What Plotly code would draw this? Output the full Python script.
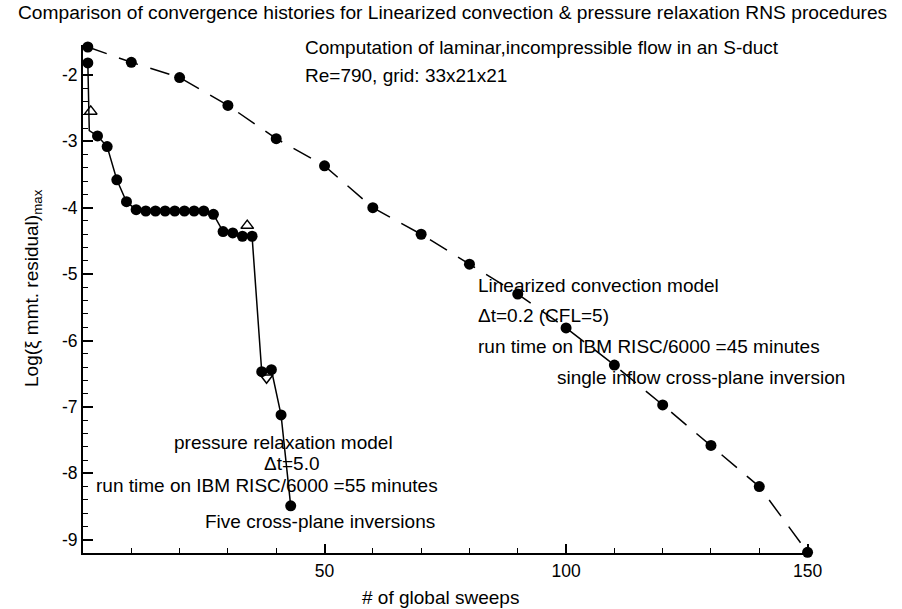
import plotly.graph_objects as go

# ---- data ----
lc_sweeps = [1, 10, 20, 30, 40, 50, 60, 70, 80, 90, 100, 110, 120, 130, 140, 150]
lc_resid = [-1.58, -1.81, -2.04, -2.46, -2.96, -3.37, -4.00, -4.40, -4.85, -5.30,
            -5.81, -6.37, -6.97, -7.58, -8.20, -9.19]

# pressure relaxation history; the 1.3 entry is an unmarked intermediate sweep
pr_sweeps = [1, 1.3, 3, 5, 7, 9, 11, 13, 15, 17, 19, 21, 23, 25, 27, 29, 31, 33, 35,
             37, 39, 41, 43]
pr_resid = [-1.82, -2.84, -2.92, -3.08, -3.58, -3.91, -4.03, -4.05, -4.05, -4.05, -4.05,
            -4.05, -4.05, -4.05, -4.10, -4.36, -4.38, -4.43, -4.43,
            -6.47, -6.44, -7.12, -8.49]
pr_marked = [True, False] + [True] * 21

tri_sweeps = [1.6, 34, 38]
tri_resid = [-2.55, -4.27, -6.56]
tri_symbols = ["triangle-up-open", "triangle-up-open", "triangle-down-open"]

y_major = [-2, -3, -4, -5, -6, -7, -8, -9]
y_major_text = ["-2", "-3", "-4", "-5", "-6", "-7", "-8", "-9"]
x_major = [50, 100, 150]
x_major_text = ["50", "100", "150"]

FONT = "Liberation Sans, Arial, sans-serif"

# plot-area geometry (pixels) used for placing free text
W, H = 902, 609
L, R, T, B = 83, 92, 45, 56
PW, PH = W - L - R, H - T - B


def px(x):
    return (x - L) / PW


def py(y):
    return (H - B - y) / PH


fig = go.Figure()

fig.add_trace(go.Scatter(
    x=lc_sweeps, y=lc_resid, mode="lines+markers",
    line=dict(color="black", width=1.5, dash="20px,13px"),
    marker=dict(color="black", size=11, opacity=1),
    cliponaxis=False, showlegend=False))

fig.add_trace(go.Scatter(
    x=pr_sweeps, y=pr_resid, mode="lines+markers",
    line=dict(color="black", width=1.5),
    marker=dict(color="black", size=[11 if m else 0 for m in pr_marked], opacity=1,
                line=dict(width=0)),
    cliponaxis=False, showlegend=False))

fig.add_trace(go.Scatter(
    x=tri_sweeps, y=tri_resid, mode="markers",
    marker=dict(color="black", size=11, symbol=tri_symbols, opacity=1,
                line=dict(width=1.5, color="black")),
    cliponaxis=False, showlegend=False))

texts = [
    ("Comparison of convergence histories for Linearized convection & pressure relaxation RNS procedures", 16, 13, 19.2),
    ("Computation of laminar,incompressible flow in an S-duct", 303, 47, 19),
    ("Re=790, grid: 33x21x21", 303, 75, 19),
    ("Linearized convection model", 476, 285, 19),
    ("\u0394t=0.2 (CFL=5)", 476, 315, 19),
    ("run time on IBM RISC/6000 =45 minutes", 476, 346, 19),
    ("single inflow cross-plane inversion", 555, 377, 19),
    ("pressure relaxation model", 172, 442, 19),
    ("\u0394t=5.0", 262, 463, 19),
    ("run time on IBM RISC/6000 =55 minutes", 94, 485, 19),
    ("Five cross-plane inversions", 203, 521, 19),
]
for t, x, y, s in texts:
    fig.add_annotation(text=t, x=px(x), y=py(y), xref="paper", yref="paper",
                       xanchor="left", yanchor="middle", showarrow=False,
                       font=dict(family=FONT, size=s, color="black"))

fig.add_annotation(text="# of global sweeps", x=px(440), y=py(597), xref="paper", yref="paper",
                   xanchor="center", yanchor="middle", showarrow=False,
                   font=dict(family=FONT, size=19, color="black"))
fig.add_annotation(text="Log(\u03be mmt. residual)<sub>max</sub>", x=px(33), y=py(288),
                   xref="paper", yref="paper", textangle=-90,
                   xanchor="center", yanchor="middle", showarrow=False,
                   font=dict(family=FONT, size=19, color="black"))

fig.update_xaxes(range=[0, 150.5], showline=True, linecolor="black", linewidth=2,
                 showgrid=False, zeroline=False, ticks="inside", ticklen=9, tickwidth=1.5,
                 tickcolor="black", tickmode="array", tickvals=x_major, ticktext=x_major_text,
                 tickfont=dict(family=FONT, size=17.5, color="black"), ticklabelstandoff=1,
                 minor=dict(dtick=10, tick0=0, ticks="inside", ticklen=5, tickwidth=1.2,
                            tickcolor="black", showgrid=False))
fig.update_yaxes(range=[-9.2, -1.55], showline=True, linecolor="black", linewidth=2,
                 showgrid=False, zeroline=False, ticks="inside", ticklen=10, tickwidth=1.5,
                 tickcolor="black", tickmode="array", tickvals=y_major, ticktext=y_major_text,
                 tickfont=dict(family=FONT, size=17.5, color="black"), ticklabelstandoff=0,
                 minor=dict(dtick=0.2, tick0=0, ticks="inside", ticklen=5, tickwidth=1.2,
                            tickcolor="black", showgrid=False))

fig.update_layout(width=W, height=H, margin=dict(l=L, r=R, t=T, b=B),
                  paper_bgcolor="white", plot_bgcolor="white",
                  font=dict(family=FONT, color="black"))

fig.write_html("out.html")
